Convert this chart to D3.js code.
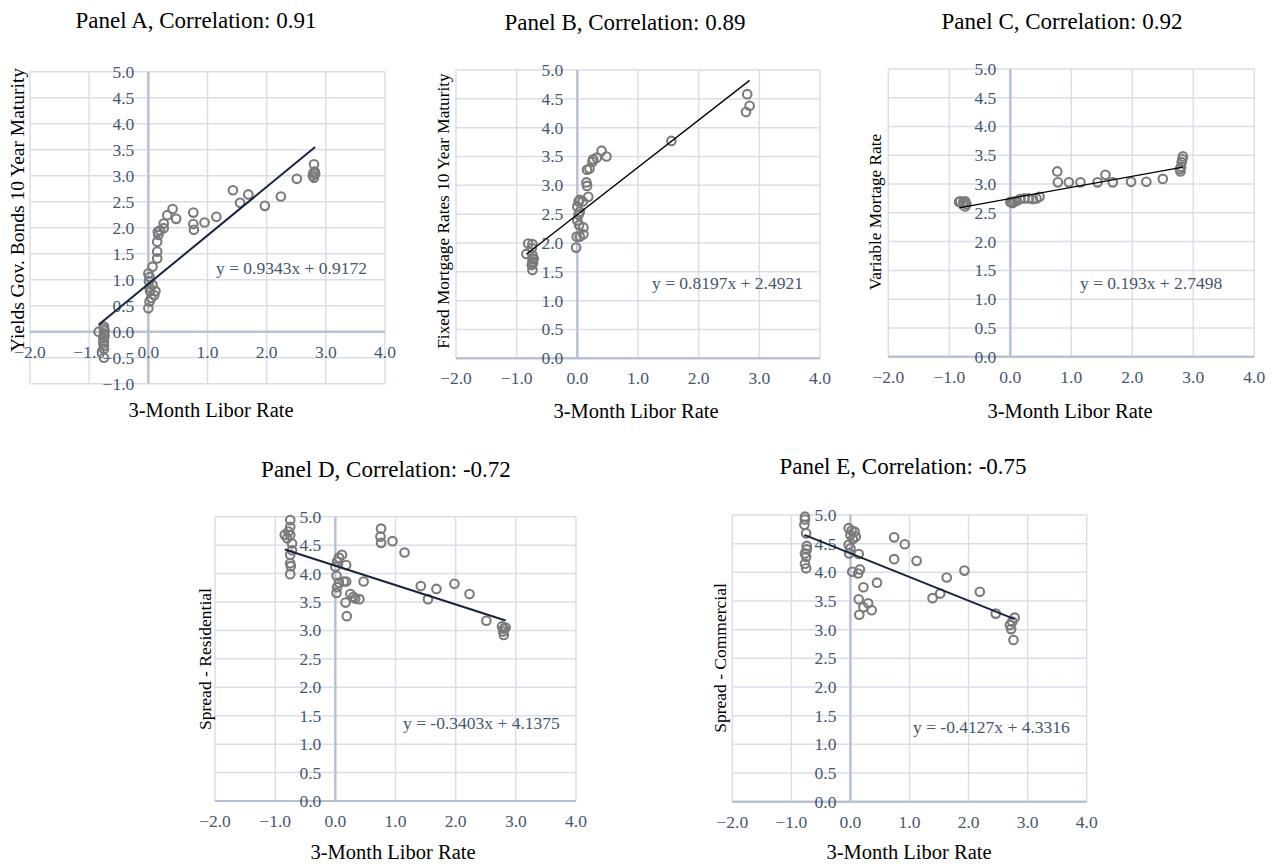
<!DOCTYPE html>
<html>
<head>
<meta charset="utf-8">
<script src="https://cdn.jsdelivr.net/npm/d3@7/dist/d3.min.js"></script>
<style>
  html, body { margin: 0; padding: 0; background: #ffffff; }
  svg { display: block; }
</style>
</head>
<body>
<svg id="chart" width="1277" height="866"></svg>
<script>
// ---------------- DATA ----------------
const xTickValues = [-2, -1, 0, 1, 2, 3, 4];
const yTicksA = [-1, -0.5, 0, 0.5, 1, 1.5, 2, 2.5, 3, 3.5, 4, 4.5, 5];
const yTicksStd = [0, 0.5, 1, 1.5, 2, 2.5, 3, 3.5, 4, 4.5, 5];

const panelTitles = [
  "Panel A, Correlation: 0.91",
  "Panel B, Correlation: 0.89",
  "Panel C, Correlation: 0.92",
  "Panel D, Correlation: -0.72",
  "Panel E, Correlation: -0.75"
];
const yAxisTitles = [
  "Yields Gov. Bonds 10 Year Maturity",
  "Fixed Mortgage Rates 10 Year Maturity",
  "Variable Mortage Rate",
  "Spread - Residential",
  "Spread - Commercial"
];
const xAxisTitle = "3-Month Libor Rate";
const slopes = [0.9343, 0.8197, 0.193, -0.3403, -0.4127];
const intercepts = [0.9172, 2.4921, 2.7498, 4.1375, 4.3316];
const equations = [
  "y = 0.9343x + 0.9172",
  "y = 0.8197x + 2.4921",
  "y = 0.193x + 2.7498",
  "y = -0.3403x + 4.1375",
  "y = -0.4127x + 4.3316"
];

// Panel A: Libor (x) vs Yields Gov. Bonds 10Y (y)
const panelA_x = [-0.84, -0.75, -0.75, -0.74, -0.75, -0.74, -0.76, -0.75, -0.76, -0.75, -0.75, -0.75,
  0.00, 0.02, 0.05, 0.10, 0.12, 0.03, 0.02, 0.07, 0.01, 0.02, 0.00, 0.07,
  0.15, 0.15, 0.15, 0.17, 0.16, 0.20, 0.26, 0.26, 0.32, 0.41, 0.47,
  0.76, 0.76, 0.77, 0.95, 1.15, 1.43, 1.55, 1.69, 1.97, 2.24, 2.51,
  2.80, 2.79, 2.78, 2.80, 2.82, 2.81];
const panelA_y = [0.00, 0.10, 0.06, 0.02, -0.03, -0.08, -0.13, -0.18, -0.22, -0.27, -0.33, -0.50,
  0.45, 0.58, 0.65, 0.70, 0.78, 0.78, 0.85, 0.90, 0.97, 1.05, 1.12, 1.25,
  1.41, 1.54, 1.73, 1.86, 1.92, 1.95, 1.99, 2.08, 2.24, 2.36, 2.17,
  2.29, 2.07, 1.96, 2.10, 2.21, 2.72, 2.48, 2.64, 2.42, 2.60, 2.94,
  3.22, 3.05, 3.00, 2.96, 3.04, 3.08];

// Panel B: Libor vs Fixed Mortgage Rates 10Y
const panelB_x = [-0.84, -0.81, -0.74, -0.75, -0.74, -0.73, -0.74, -0.75, -0.74, -0.72, -0.73,
  -0.02, -0.01, 0.04, 0.10, 0.10, 0.03, 0.00, 0.02, 0.04, 0.00, 0.02, 0.04, 0.09,
  0.18, 0.16, 0.15, 0.16, 0.20, 0.25, 0.26, 0.32, 0.40, 0.48,
  1.55,
  2.80, 2.84, 2.78];
const panelB_y = [1.81, 1.99, 1.98, 1.91, 1.79, 1.72, 1.68, 1.62, 1.53, 1.73, 1.65,
  1.92, 2.11, 2.11, 2.15, 2.27, 2.31, 2.39, 2.49, 2.54, 2.63, 2.72, 2.75, 2.72,
  2.80, 2.99, 3.05, 3.27, 3.29, 3.41, 3.45, 3.48, 3.60, 3.50,
  3.77,
  4.58, 4.38, 4.27];

// Panel C: Libor vs Variable Mortgage Rate
const panelC_x = [-0.84, -0.82, -0.77, -0.74, -0.72, -0.74,
  0.00, 0.02, 0.04, 0.07, 0.11, 0.16, 0.23, 0.30, 0.37, 0.43, 0.48,
  0.77, 0.78, 0.96, 1.15, 1.43, 1.56, 1.68, 1.98, 2.23, 2.50,
  2.79, 2.78, 2.80, 2.81, 2.82, 2.83];
const panelC_y = [2.69, 2.70, 2.69, 2.70, 2.65, 2.61,
  2.69, 2.68, 2.67, 2.70, 2.71, 2.74, 2.75, 2.75, 2.74, 2.75, 2.78,
  3.22, 3.03, 3.03, 3.03, 3.03, 3.16, 3.03, 3.04, 3.04, 3.09,
  3.22, 3.26, 3.30, 3.38, 3.43, 3.48];

// Panel D: Libor vs Spread - Residential
const panelD_x = [-0.84, -0.75, -0.75, -0.78, -0.75, -0.80, -0.72, -0.72, -0.75, -0.75, -0.74, -0.75,
  0.00, 0.03, 0.06, 0.11, 0.02, 0.03, 0.02, 0.06, 0.14, 0.18, 0.18, 0.17, 0.19, 0.25, 0.30, 0.33, 0.40, 0.47,
  0.76, 0.75, 0.76, 0.95, 1.15, 1.42, 1.54, 1.68, 1.98, 2.23, 2.51,
  2.77, 2.80, 2.79, 2.80, 2.83];
const panelD_y = [4.68, 4.94, 4.82, 4.74, 4.68, 4.62, 4.53, 4.41, 4.33, 4.18, 4.13, 3.99,
  4.12, 4.21, 4.28, 4.33, 3.96, 3.76, 3.66, 3.84, 3.86, 4.15, 3.86, 3.49, 3.25, 3.64, 3.59, 3.56, 3.55, 3.86,
  4.79, 4.65, 4.54, 4.57, 4.37, 3.78, 3.55, 3.73, 3.82, 3.64, 3.17,
  3.07, 3.03, 2.98, 2.92, 3.05];

// Panel E: Libor vs Spread - Commercial
const panelE_x = [-0.77, -0.77, -0.78, -0.75, -0.74, -0.74, -0.77, -0.75, -0.77, -0.75,
  -0.03, 0.02, 0.07, 0.00, 0.04, -0.03, 0.00, -0.02, 0.09, 0.14, 0.03, 0.13, 0.16, 0.14, 0.15, 0.22, 0.22, 0.30, 0.36, 0.45,
  0.74, 0.74, 0.92, 1.12, 1.39, 1.52, 1.63, 1.93, 2.19, 2.46,
  2.78, 2.70, 2.72, 2.76, 2.74];
const panelE_y = [4.97, 4.92, 4.83, 4.68, 4.46, 4.40, 4.33, 4.27, 4.15, 4.07,
  4.77, 4.73, 4.71, 4.65, 4.58, 4.48, 4.42, 4.33, 4.62, 4.32, 4.01, 3.98, 4.05, 3.53, 3.26, 3.74, 3.39, 3.46, 3.34, 3.82,
  4.61, 4.23, 4.49, 4.20, 3.55, 3.63, 3.91, 4.03, 3.66, 3.28,
  3.21, 3.08, 3.01, 2.82, 3.14];

// ---------------- LAYOUT (pixels) ----------------
const layouts = [
  { xr: [30, 385],    yr: [383.7, 71.7], yd: [-1, 5], yt: yTicksA,  title: [196, 20],  xt: [211, 410], ytl: [17, 210],  ytSize: 19.5, eq: [216, 268] },
  { xr: [456, 820],   yr: [358.3, 70],   yd: [0, 5],  yt: yTicksStd, title: [625, 22], xt: [636, 411], ytl: [443, 211], ytSize: 17.3, eq: [652, 283] },
  { xr: [888.3, 1254.3], yr: [356.7, 69], yd: [0, 5], yt: yTicksStd, title: [1062, 21], xt: [1070, 411], ytl: [875, 212], ytSize: 17.3, eq: [1080, 283] },
  { xr: [215, 576],   yr: [801, 516.7],  yd: [0, 5],  yt: yTicksStd, title: [386, 469], xt: [393, 852], ytl: [205, 659], ytSize: 17.5, eq: [403, 723] },
  { xr: [732.3, 1086.7], yr: [801.7, 515], yd: [0, 5], yt: yTicksStd, title: [903, 466], xt: [909, 852], ytl: [720, 658], ytSize: 17.5, eq: [913, 727] }
];
const trendStyles = [
  { color: "#17243f", width: 2 },
  { color: "#000000", width: 1.3 },
  { color: "#000000", width: 1.3 },
  { color: "#17243f", width: 2 },
  { color: "#17243f", width: 2 }
];

const xsAll = [panelA_x, panelB_x, panelC_x, panelD_x, panelE_x];
const ysAll = [panelA_y, panelB_y, panelC_y, panelD_y, panelE_y];

const FONT = "'Liberation Serif', 'Times New Roman', serif";
const GRID = "#d9dee8";
const AXIS = "#b7c0d3";
const TICKTXT = "#46566f";
const MARK = "#7b7b7b";

const svg = d3.select("#chart");

layouts.forEach((L, i) => {
  const g = svg.append("g");
  const x = d3.scaleLinear().domain([-2, 4]).range(L.xr);
  const y = d3.scaleLinear().domain(L.yd).range(L.yr);

  // gridlines
  g.append("g").selectAll("line.v").data(xTickValues).join("line")
    .attr("x1", d => x(d)).attr("x2", d => x(d))
    .attr("y1", y(L.yd[0])).attr("y2", y(L.yd[1]))
    .attr("stroke", d => d === 0 ? AXIS : GRID)
    .attr("stroke-width", d => d === 0 ? 2 : 1.5);
  g.append("g").selectAll("line.h").data(L.yt).join("line")
    .attr("y1", d => y(d)).attr("y2", d => y(d))
    .attr("x1", x(-2)).attr("x2", x(4))
    .attr("stroke", d => d === 0 ? AXIS : GRID)
    .attr("stroke-width", d => d === 0 ? 2 : 1.5);
  // zero axis lines on top of grid
  g.append("line").attr("x1", x(0)).attr("x2", x(0)).attr("y1", y(L.yd[0])).attr("y2", y(L.yd[1]))
    .attr("stroke", AXIS).attr("stroke-width", 2);
  g.append("line").attr("x1", x(-2)).attr("x2", x(4)).attr("y1", y(0)).attr("y2", y(0))
    .attr("stroke", AXIS).attr("stroke-width", 2);

  // tick labels
  g.append("g").selectAll("text").data(xTickValues).join("text")
    .attr("x", d => x(d)).attr("y", y(0) + 26)
    .attr("text-anchor", "middle")
    .attr("font-family", FONT).attr("font-size", 17.5).attr("fill", TICKTXT)
    .text(d => d3.format(".1f")(d));
  g.append("g").selectAll("text").data(L.yt).join("text")
    .attr("x", x(0) - 14).attr("y", d => y(d)).attr("dy", "0.34em")
    .attr("text-anchor", "end")
    .attr("font-family", FONT).attr("font-size", 17.5).attr("fill", TICKTXT)
    .text(d => d3.format(".1f")(d));

  // points
  const xs = xsAll[i], ys = ysAll[i];
  g.append("g").selectAll("circle").data(xs.map((v, k) => [v, ys[k]])).join("circle")
    .attr("cx", d => x(d[0])).attr("cy", d => y(d[1])).attr("r", 4.3)
    .attr("fill", "none").attr("stroke", MARK).attr("stroke-width", 2.1);

  // trendline
  const ext = d3.extent(xs);
  g.append("line")
    .attr("x1", x(ext[0])).attr("y1", y(slopes[i] * ext[0] + intercepts[i]))
    .attr("x2", x(ext[1])).attr("y2", y(slopes[i] * ext[1] + intercepts[i]))
    .attr("stroke", trendStyles[i].color).attr("stroke-width", trendStyles[i].width);

  // equation
  g.append("text").attr("x", L.eq[0]).attr("y", L.eq[1]).attr("dy", "0.34em")
    .attr("font-family", FONT).attr("font-size", 17.5).attr("fill", TICKTXT)
    .text(equations[i]);

  // titles
  g.append("text").attr("x", L.title[0]).attr("y", L.title[1]).attr("dy", "0.35em")
    .attr("text-anchor", "middle").attr("font-family", FONT).attr("font-size", 23).attr("fill", "#000")
    .text(panelTitles[i]);
  g.append("text").attr("x", L.xt[0]).attr("y", L.xt[1]).attr("dy", "0.35em")
    .attr("text-anchor", "middle").attr("font-family", FONT).attr("font-size", 20.5).attr("fill", "#000")
    .text(xAxisTitle);
  g.append("text")
    .attr("transform", `translate(${L.ytl[0]},${L.ytl[1]}) rotate(-90)`)
    .attr("dy", "0.35em")
    .attr("text-anchor", "middle").attr("font-family", FONT).attr("font-size", L.ytSize).attr("fill", "#000")
    .text(yAxisTitles[i]);
});
</script>
</body>
</html>
